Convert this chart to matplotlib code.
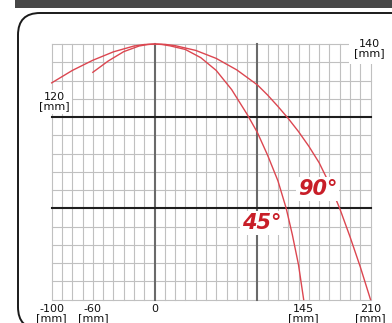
import numpy as np
import matplotlib
matplotlib.use("Agg")
import matplotlib.pyplot as plt
from matplotlib.patches import FancyBboxPatch, Rectangle
from matplotlib.transforms import IdentityTransform

# spray profiles, x across / y down, both in mm
x_90 = [-100, -80, -60, -40, -20, -10, 0, 10, 20, 40, 60, 80, 100, 110, 120, 130,
        140, 150, 160, 170, 180, 190, 200, 210]
y_90 = [-21.3, -14.5, -8.9, -4.3, -1.1, -0.3, 0, -0.2, -0.9, -3.5, -7.9, -14.2, -22.4, -28, -34.2, -40.8,
        -48, -56, -65, -76.5, -90, -105.5, -122, -140]

x_45 = [-60, -45, -30, -15, -7, 0, 7, 15, 30, 45, 60, 75, 90, 100, 110, 120, 128, 134, 140, 145]
y_45 = [-15.5, -9.3, -4.2, -1.1, -0.3, 0, -0.25, -1.0, -3.0, -7.5, -14.5, -25, -38.5, -48.5, -61, -75,
        -90, -104.5, -121, -140]

x_labels = [-100, -60, 0, 145, 210]
x_label_text = ["-100\n[mm]", "-60\n[mm]", "0", "145\n[mm]", "210\n[mm]"]

red_line = "#dc4650"
red_text = "#c81e28"

W, H, DPI = 392, 323, 100
fig = plt.figure(figsize=(W / DPI, H / DPI), dpi=DPI)
fig.patch.set_facecolor("white")

# dark strip along the top and the rounded card
fig.patches.append(Rectangle((15, H - 8), W, 8, transform=IdentityTransform(),
                             facecolor="#474747", edgecolor="none", zorder=-2))
fig.patches.append(FancyBboxPatch((18, -6), 420, H - 13 + 6,
                                  boxstyle="round,pad=0,rounding_size=22",
                                  transform=IdentityTransform(),
                                  facecolor="white", edgecolor="#1a1a1a",
                                  linewidth=1.4, zorder=-2))

# plot area in pixels: x -100..210 -> 51.7..370.5, y 0..-140 -> 44..299.5
left, right, top, bottom = 51.7, 370.5, 44, 299.5
ax = fig.add_axes([left / W, (H - bottom) / H, (right - left) / W, (bottom - top) / H])
ax.set_zorder(1)
ax.set_xlim(-100, 210)
ax.set_ylim(-140, 0)
ax.patch.set_alpha(0)
for s in ax.spines.values():
    s.set_visible(False)
ax.tick_params(which="both", length=0, labelbottom=False, labelleft=False)

for xv in np.arange(-100, 211, 10):
    if xv in (0, 100):
        ax.axvline(xv, color="#6a6a6a", lw=1.5, zorder=2, clip_on=False)
    else:
        ax.axvline(xv, color="#c0c0c0", lw=0.8, zorder=1, clip_on=False)
for yv in np.arange(-140, 1, 10):
    if yv in (-40, -90):
        ax.axhline(yv, color="#1e1e1e", lw=1.5, zorder=2, clip_on=False)
    else:
        ax.axhline(yv, color="#c0c0c0", lw=0.8, zorder=1, clip_on=False)

ax.plot(x_90, y_90, color=red_line, lw=1.0, zorder=3, clip_on=False)
ax.plot(x_45, y_45, color=red_line, lw=1.0, zorder=3, clip_on=False)

for xv, t in zip(x_labels, x_label_text):
    ax.text(xv, -142.5, t, ha="center", va="top", fontsize=8, linespacing=0.85,
            color="#111111", clip_on=False)

ax.text(209, 2.5, "140\n[mm]", ha="center", va="top", fontsize=8, linespacing=0.85,
        color="#111111", zorder=5, clip_on=False,
        bbox=dict(facecolor="white", edgecolor="none", pad=4))
ax.text(-97.5, -26.5, "120\n[mm]", ha="center", va="top", fontsize=8, linespacing=0.85,
        color="#111111", zorder=5, clip_on=False,
        bbox=dict(facecolor="white", edgecolor="none", pad=2))

ax.text(158.5, -79.5, "90°", ha="center", va="center", fontsize=15, fontweight="bold",
        fontstyle="italic", color=red_text, zorder=5,
        bbox=dict(facecolor="white", edgecolor="none", pad=1.5))
ax.text(104, -98, "45°", ha="center", va="center", fontsize=15, fontweight="bold",
        fontstyle="italic", color=red_text, zorder=5,
        bbox=dict(facecolor="white", edgecolor="none", pad=1.5))

fig.savefig("out.png", dpi=DPI)
